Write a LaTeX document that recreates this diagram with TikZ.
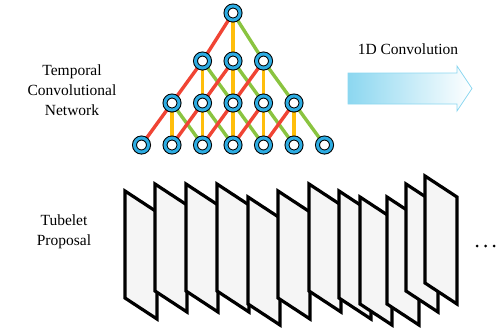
\documentclass[tikz,border=0pt]{standalone}
\usepackage{fontspec}
\setmainfont{Liberation Serif}
\pgfdeclarelayer{bg}
\pgfsetlayers{bg,main}
\definecolor{ringc}{RGB}{45,172,226}
\definecolor{redc}{RGB}{240,68,52}
\definecolor{yelc}{RGB}{255,190,10}
\definecolor{grnc}{RGB}{138,196,64}
\definecolor{arrc}{RGB}{140,215,240}
\definecolor{panelc}{RGB}{245,245,245}
\tikzset{
  unit/.style={circle, inner sep=0pt, minimum size=14bp, draw=black, line width=1bp,
     double=ringc, double distance=3bp, fill=white},
  redl/.style={draw=redc, line width=3.4bp},
  yell/.style={draw=yelc, line width=3.4bp},
  grnl/.style={draw=grnc, line width=3.4bp},
  lbl/.style={align=center, font=\fontsize{15.5bp}{20bp}\selectfont, inner sep=0pt},
  panel/.style={draw=black, fill=panelc, line width=3.2bp, line join=miter},
}
\begin{document}
\begin{tikzpicture}[x=1bp,y=-1bp]
\useasboundingbox (0,0) rectangle (503,329);
% units
\node[unit] (n0-3) at (233,13) {};
\foreach \k in {2,3,4} { \node[unit] (n1-\k) at ({141.5+30.5*\k},61) {}; }
\foreach \k in {1,...,5} { \node[unit] (n2-\k) at ({141.5+30.5*\k},103) {}; }
\foreach \k in {0,...,6} { \node[unit] (n3-\k) at ({141.5+30.5*\k},145) {}; }
% connections
\begin{pgfonlayer}{bg}
\draw[redl] (n0-3) -- (n1-2);
\draw[yell] (n0-3) -- (n1-3);
\draw[grnl] (n0-3) -- (n1-4);
\foreach \k in {2,3,4} {
  \pgfmathtruncatemacro{\a}{\k-1}\pgfmathtruncatemacro{\b}{\k+1}
  \draw[grnl] (n1-\k) -- (n2-\b);
  \draw[redl] (n1-\k) -- (n2-\a);
  \draw[yell] (n1-\k) -- (n2-\k);
}
\foreach \k in {1,...,5} {
  \pgfmathtruncatemacro{\a}{\k-1}\pgfmathtruncatemacro{\b}{\k+1}
  \draw[grnl] (n2-\k) -- (n3-\b);
  \draw[redl] (n2-\k) -- (n3-\a);
  \draw[yell] (n2-\k) -- (n3-\k);
}
\end{pgfonlayer}
% labels
\node[lbl] (tcn) at (72,90) {Temporal\\Convolutional\\Network};
\node[lbl] (tube) at (64,232) {Tubelet\\Proposal};
\node[lbl, anchor=base] (conv) at (408,54) {1D Convolution};
% arrow
\shadedraw[left color=arrc, right color=white, draw=arrc, line width=0.8bp]
  (348,73) -- (457,73) -- (457,66) -- (472,88.5) -- (457,111) -- (457,104) -- (348,104) -- cycle;
% panels
\foreach \x/\y in {125/191,155/184,186/184,217/184,248/197,278/191,309/184,339/191,360/197,387/197,406/184,425/176} {
  \draw[panel] (\x,\y) -- ++(32,21) -- ++(0,107) -- ++(-32,-21) -- cycle;
}
% dots
\foreach \x in {477,485.5,494} { \fill (\x,246) circle (1.5bp); }
\end{tikzpicture}
\end{document}
